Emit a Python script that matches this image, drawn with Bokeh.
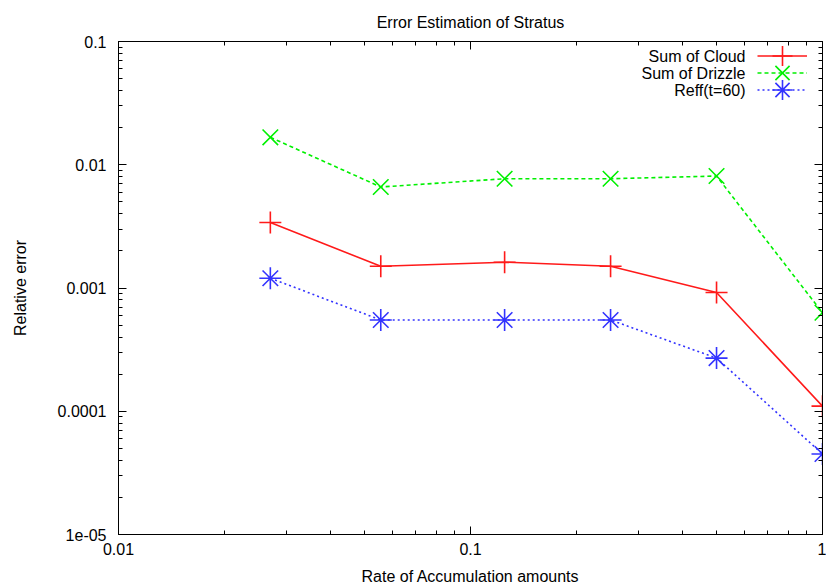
from bokeh.plotting import figure
from bokeh.models import (LogAxis, FixedTicker, CustomJSTickFormatter, Legend,
                          LegendItem, Label, Range1d)
from bokeh.embed import file_html
from bokeh.resources import INLINE

# ---- data ----
rate = [0.027, 0.0556, 0.125, 0.25, 0.5, 1.0]
sum_cloud = [0.0034, 0.0015, 0.00162, 0.0015, 0.00092, 0.00011]
sum_drizzle = [0.0167, 0.0066, 0.0077, 0.0077, 0.0081, 0.00063]
reff_t60 = [0.0012, 0.00055, 0.00055, 0.00055, 0.00027, 0.000045]
series_names = ["Sum of Cloud", "Sum of Drizzle", "Reff(t=60)"]
title_text = "Error Estimation of Stratus"

x_tick_values = [0.01, 0.1, 1.0]
x_tick_labels = ["0.01", "0.1", "1"]
y_tick_values = [1e-5, 1e-4, 1e-3, 1e-2, 1e-1]
y_tick_labels = ["1e-05", "0.0001", "0.001", "0.01", "0.1"]

FONT = "Liberation Sans"
FS = "16px"


def minor_of(majors):
    out = []
    for m in majors[:-1]:
        for k in range(2, 10):
            out.append(m * k)
    return out


p = figure(width=826, height=588, x_axis_type="log", y_axis_type="log",
           x_range=Range1d(0.01, 1.0), y_range=Range1d(1e-5, 0.1),
           output_backend="svg", toolbar_location=None,
           min_border_left=118, min_border_right=4, min_border_top=41,
           min_border_bottom=54, title=title_text)

p.title.text_font = FONT
p.title.text_font_size = FS
p.title.text_font_style = "normal"
p.title.align = "center"
p.title.text_color = "black"
p.title.standoff = 21

p.xgrid.visible = False
p.ygrid.visible = False
p.outline_line_color = "black"
p.outline_line_width = 1
p.outline_line_alpha = 1.0

fmt_code = """
for (let i = 0; i < vals.length; i++) {
  if (Math.abs(Math.log10(tick) - Math.log10(vals[i])) < 1e-6) return labs[i];
}
return '';
"""

xt = FixedTicker(ticks=x_tick_values, minor_ticks=minor_of(x_tick_values))
yt = FixedTicker(ticks=y_tick_values, minor_ticks=minor_of(y_tick_values))


def style_axis(ax, ticker, labels_vals, labels, show_labels=True):
    ax.ticker = ticker
    ax.major_tick_in = 8
    ax.major_tick_out = 0
    ax.minor_tick_in = 4
    ax.minor_tick_out = 0
    ax.major_tick_line_color = "black"
    ax.minor_tick_line_color = "black"
    ax.axis_line_color = "black"
    ax.major_label_text_font = FONT
    ax.major_label_text_font_size = FS
    ax.major_label_text_color = "black"
    ax.axis_label_text_font = FONT
    ax.axis_label_text_font_size = FS
    ax.axis_label_text_font_style = "normal"
    ax.axis_label_text_color = "black"
    if show_labels:
        ax.formatter = CustomJSTickFormatter(args=dict(vals=labels_vals, labs=labels),
                                             code=fmt_code)
    else:
        ax.formatter = CustomJSTickFormatter(code="return '';")
        ax.major_label_standoff = 0


style_axis(p.xaxis[0], xt, x_tick_values, x_tick_labels)
style_axis(p.yaxis[0], yt, y_tick_values, y_tick_labels)
p.xaxis[0].major_label_standoff = 8
p.yaxis[0].major_label_standoff = 12
p.xaxis[0].axis_label = "Rate of Accumulation amounts"
p.yaxis[0].axis_label = "Relative error"
p.xaxis[0].axis_label_standoff = 10
p.yaxis[0].axis_label_standoff = 26

top_ax = LogAxis()
style_axis(top_ax, xt, x_tick_values, x_tick_labels, show_labels=False)
p.add_layout(top_ax, "above")
right_ax = LogAxis()
style_axis(right_ax, yt, y_tick_values, y_tick_labels, show_labels=False)
p.add_layout(right_ax, "right")

RED = "#ff1a1a"
GREEN = "#00f000"
BLUE = "#3333ff"
MS = 22

l1 = p.line(rate, sum_cloud, line_color=RED, line_width=1.6)
s1 = p.scatter(rate, sum_cloud, marker="cross", size=MS, line_color=RED, line_width=1.6)
l2 = p.line(rate, sum_drizzle, line_color=GREEN, line_width=1.6, line_dash="4 3")
s2 = p.scatter(rate, sum_drizzle, marker="x", size=MS, line_color=GREEN, line_width=1.6)
l3 = p.line(rate, reff_t60, line_color=BLUE, line_width=1.6, line_dash="2 3")
s3 = p.scatter(rate, reff_t60, marker="asterisk", size=MS, line_color=BLUE, line_width=1.6)

# legend samples (gnuplot style: text on the left, sample on the right),
# one single-item legend per row so the rows can sit close together
extra = {}
props = Legend.properties()
if "item_background_fill_alpha" in props:
    extra["item_background_fill_alpha"] = 0.0
if "item_background_policy" in props:
    extra["item_background_policy"] = "none"

row_bottom = [451, 434, 417]
row_y = [478, 461, 444]
for rends, vy in zip([[l1, s1], [l2, s2], [l3, s3]], row_bottom):
    lg = Legend(items=[LegendItem(label=" ", renderers=rends)],
                location=(639, vy), glyph_width=50, glyph_height=55,
                padding=0, margin=0, label_width=0, label_standoff=0,
                label_height=55, border_line_color=None,
                background_fill_alpha=0.0, label_text_font_size="1px", **extra)
    p.add_layout(lg)

for name, yy in zip(series_names, row_y):
    p.add_layout(Label(x=627, y=yy, x_units="screen", y_units="screen", text=name,
                       text_align="right", text_baseline="middle",
                       text_font=FONT, text_font_size=FS, text_color="black"))

open("out.html", "w").write(file_html(p, INLINE))
